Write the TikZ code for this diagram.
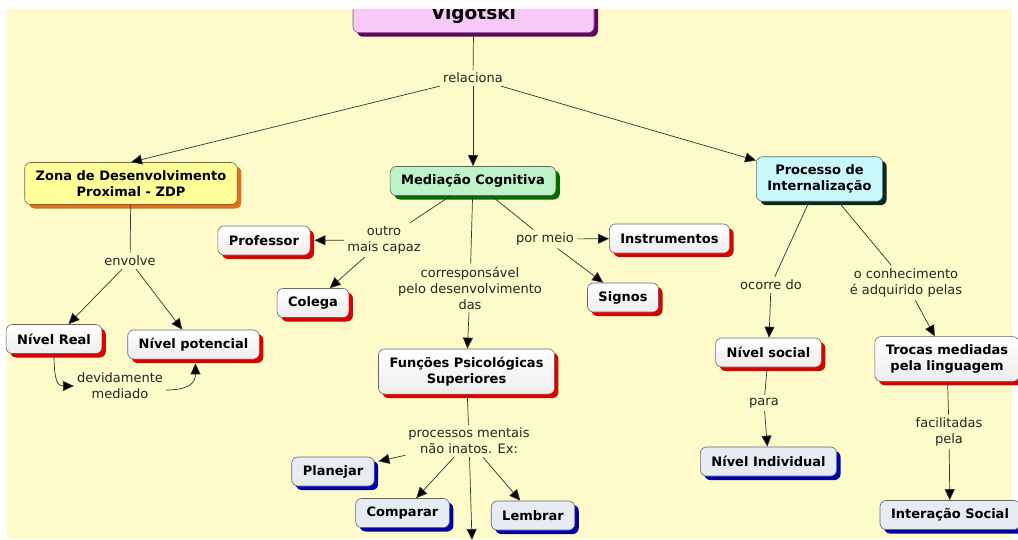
\documentclass[tikz,border=0pt]{standalone}
\usepackage{fontspec}
\setmainfont{DejaVu Sans}
\usetikzlibrary{arrows.meta,shadows}

\definecolor{mapbg}{RGB}{255,250,202}
\definecolor{vigfill}{RGB}{248,200,248}
\definecolor{vigshadow}{RGB}{102,0,102}
\definecolor{zdpfill}{RGB}{255,255,153}
\definecolor{zdpshadow}{RGB}{230,110,20}
\definecolor{medfill}{RGB}{190,242,200}
\definecolor{medshadow}{RGB}{0,110,0}
\definecolor{procfill}{RGB}{200,248,250}
\definecolor{procshadow}{RGB}{0,45,35}
\definecolor{redshadow}{RGB}{220,0,0}
\definecolor{bluefill}{RGB}{230,235,244}
\definecolor{blueshadow}{RGB}{0,0,170}

\newcommand{\mapfont}{\fontsize{13}{16}\selectfont}

\tikzset{
  cmapbox/.style={draw=black!60, line width=0.6pt, rounded corners=6pt,
    font=\mapfont\bfseries, align=center, inner xsep=11pt, inner ysep=8pt,
    minimum height=29pt},
  shadowed/.style={drop shadow={shadow xshift=4pt, shadow yshift=-4pt,
    opacity=1, fill=#1}},
  whitebox/.style={cmapbox, top color=white, bottom color=black!7,
    shadowed=redshadow},
  bluebox/.style={cmapbox, fill=bluefill, shadowed=blueshadow},
  linking/.style={font=\mapfont, text=black!85, align=center, inner sep=3pt},
  link/.style={draw=black!80, line width=0.7pt},
  linkto/.style={link, -{Triangle[length=11pt,width=10pt,fill=black]}},
}

\begin{document}
\begin{tikzpicture}[x=1pt,y=-1pt]
  \clip (0,0) rectangle (1018,539);
  \fill[white] (0,0) rectangle (1018,539);
  \fill[mapbg] (7,9) rectangle (1012,539);

  % Coordinates
  \coordinate (down) at (472,540);

  % concepts
  \node[cmapbox, fill=vigfill, shadowed=vigshadow,
    font=\fontsize{18.5}{22}\selectfont\bfseries, minimum width=241pt,
    text height=40pt, text depth=5.5pt, anchor=south] (vig) at (473.5,33) {Vigotski};
  \node[cmapbox, fill=zdpfill, shadowed=zdpshadow] (zdp) at (131,183.5)
    {Zona de Desenvolvimento\\Proximal - ZDP};
  \node[whitebox] (real) at (54,339) {Nível Real};
  \node[whitebox] (pot) at (193.5,344.5) {Nível potencial};
  \node[cmapbox, fill=medfill, shadowed=medshadow] (med) at (473,181) {Mediação Cognitiva};
  \node[whitebox] (prof) at (264,240.5) {Professor};
  \node[whitebox] (colega) at (313,303) {Colega};
  \node[whitebox] (instr) at (669.5,238.5) {Instrumentos};
  \node[whitebox] (signos) at (623,297.5) {Signos};
  \node[whitebox] (func) at (466.5,371.5) {Funções Psicológicas\\Superiores};
  \node[bluebox] (plan) at (333,471.5) {Planejar};
  \node[bluebox] (comp) at (402.5,513) {Comparar};
  \node[bluebox] (lemb) at (533,515.5) {Lembrar};
  \node[cmapbox, fill=procfill, shadowed=procshadow] (proc) at (819.5,179)
    {Processo de\\Internalização};
  \node[whitebox] (social) at (768.5,352.5) {Nível social};
  \node[bluebox] (indiv) at (768.5,461.5) {Nível Individual};
  \node[whitebox] (trocas) at (947,359) {Trocas mediadas\\pela linguagem};
  \node[bluebox] (inter) at (950,515) {Interação Social};

  % link labels
  \node[linking] (rel) at (473,78) {relaciona};
  \node[linking] (env) at (130,261) {envolve};
  \node[linking] (dev) at (120,386) {devidamente\\mediado};
  \node[linking] (capaz) at (384,240) {outro\\mais capaz};
  \node[linking] (corr) at (470,288) {corresponsável\\pelo desenvolvimento\\das};
  \node[linking] (meio) at (545,239) {por meio};
  \node[linking] (procm) at (469,441) {processos mentais\\não inatos. Ex:};
  \node[linking] (ocorre) at (771,285) {ocorre do};
  \node[linking] (conh) at (906,283) {o conhecimento\\é adquirido pelas};
  \node[linking] (para) at (764,403) {para};
  \node[linking] (facil) at (949,432) {facilitadas\\pela};

  % connecting the concepts
  \draw[link] (vig.south) -- (rel);
  \draw[linkto] (rel) -- (zdp.north);
  \draw[linkto] (rel) -- (med);
  \draw[linkto] (rel) -- (proc);

  \draw[link] (zdp) -- (env);
  \draw[linkto] (env) -- (real);
  \draw[linkto] (env) -- (pot);
  \draw[linkto] (real.south) .. controls +(0,28) and +(-16,0) .. (dev.west);
  \draw[linkto] ([yshift=-4pt]dev.east) .. controls +(22,0) and +(0,20)
    .. ([shift={(2pt,-4pt)}]pot.south);

  \draw[link] (med) -- (capaz);
  \draw[linkto, shorten >=4pt] (capaz) -- (prof);
  \draw[linkto] (capaz) -- (colega);
  \draw[link] (med) -- (corr);
  \draw[linkto] (corr) -- (func);
  \draw[link] (med) -- (meio);
  \draw[linkto] (meio) -- (instr);
  \draw[linkto] (meio) -- (signos);

  \draw[link] (func) -- (procm);
  \draw[linkto, shorten >=4pt] (procm) -- (plan);
  \draw[linkto] (procm) -- (comp);
  \draw[linkto] (procm) -- (lemb);
  \draw[linkto] (procm) -- (down);

  \draw[link] (proc) -- (ocorre);
  \draw[linkto] (ocorre) -- (social);
  \draw[link] (proc) -- (conh);
  \draw[linkto] (conh) -- (trocas);
  \draw[link] (social) -- (para);
  \draw[linkto] (para) -- (indiv);
  \draw[link] (trocas) -- (facil);
  \draw[linkto] (facil) -- (inter);

  % white top margin over the main concept
  \fill[white] (0,0) rectangle (1018,9);
\end{tikzpicture}
\end{document}
